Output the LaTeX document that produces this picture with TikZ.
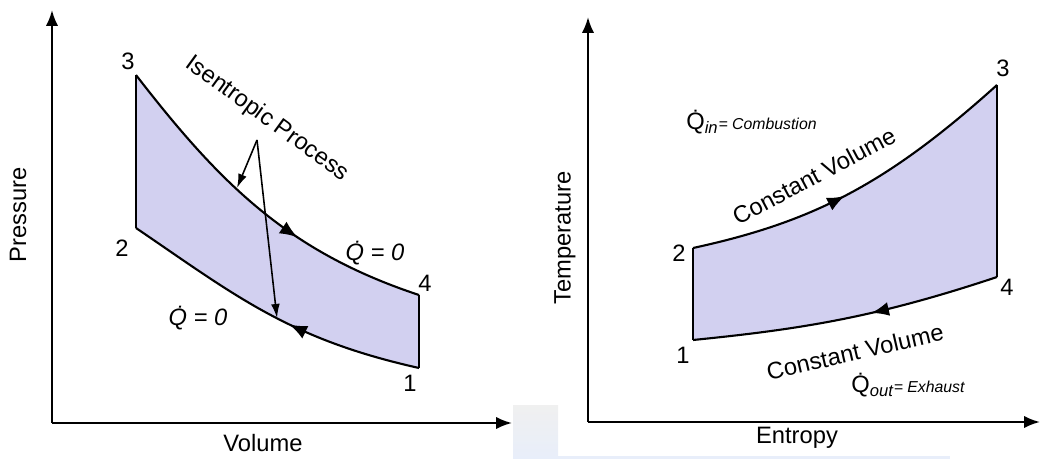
\documentclass[tikz,border=0pt]{standalone}
\usepackage{fontspec}
\setmainfont{Liberation Sans}
\definecolor{cyclefill}{RGB}{210,208,240}
\definecolor{hazeblue}{RGB}{232,238,250}
\usetikzlibrary{arrows.meta, decorations.markings}

\begin{document}
\begin{tikzpicture}[x=0.02cm, y=-0.02cm,
  font=\fontsize{13.5}{16}\selectfont,
  axisline/.style={line width=1.3pt, -{Latex[length=9pt,width=7pt]}},
  process/.style={line width=1.2pt},
  pointer/.style={line width=0.9pt, -{Latex[length=8pt,width=5pt]}},
  flowtip/.style={postaction={decorate}, decoration={markings,
    mark=at position #1 with {\arrow{Latex[length=10pt,width=8pt]}}}},
  lbl/.style={inner sep=0pt}]
  % Frame (reference size in px)
  \useasboundingbox (0,0) rectangle (1041,459);

  % Faint haze at the bottom between panels
  \shade[top color=gray!12, bottom color=hazeblue] (513,405) rectangle (558,459);
  \fill[hazeblue] (513,456) rectangle (950,459);

  % ---------------- P-V diagram ----------------
  \coordinate (pv0) at (52,423);
  \coordinate (pvtop) at (52,10);
  \coordinate (pvright) at (512,423);
  \coordinate (pv3) at (136,75);
  \coordinate (pv4) at (419,295);
  \coordinate (pv1) at (419,368);
  \coordinate (pv2) at (136,228);

  % Cycle area
  \fill[cyclefill] (pv3) .. controls (221,185) and (289,252) .. (pv4)
    -- (pv1) .. controls (289,339) and (236,296) .. (pv2) -- cycle;
  % Isentropic expansion 3 -> 4
  \draw[process, flowtip=0.63] (pv3) .. controls (221,185) and (289,252) .. (pv4);
  % Heat rejection 4 -> 1
  \draw[process] (pv4) -- (pv1);
  % Isentropic compression 1 -> 2
  \draw[process, flowtip=0.43] (pv1) .. controls (289,339) and (236,296) .. (pv2);
  % Heat addition 2 -> 3
  \draw[process] (pv2) -- (pv3);

  % Axes
  \draw[axisline] (pv0) -- (pvtop);
  \draw[axisline] (pv0) -- (pvright);
  \node[lbl] (volume) at (263,443) {Volume};
  \node[lbl, rotate=90] (pressure) at (18,215) {Pressure};

  % State labels
  \node[lbl] (pvlbl3) at (128,61) {3};
  \node[lbl] (pvlbl2) at (122,248) {2};
  \node[lbl] (pvlbl4) at (425,283) {4};
  \node[lbl] (pvlbl1) at (410,383) {1};

  % Isentropic callout
  \node[lbl, rotate=-36] (isen) at (267,119) {Isentropic Process};
  \coordinate (apex) at (257,140);
  \coordinate (hitup) at (237,188);
  \coordinate (hitlow) at (277,318);
  \draw[pointer] (apex) -- (hitup);
  \draw[pointer] (apex) -- (hitlow);

  % Adiabatic notes
  \node[lbl] (qzeroup) at (375,253) {\itshape \.{Q} = 0};
  \node[lbl] (qzerolow) at (198,318) {\itshape \.{Q} = 0};

  % ---------------- T-s diagram ----------------
  \coordinate (ts0) at (588,422);
  \coordinate (tstop) at (588,17);
  \coordinate (tsright) at (1040,422);
  \coordinate (ts1) at (693,340);
  \coordinate (ts2) at (693,248);
  \coordinate (ts3) at (997,85);
  \coordinate (ts4) at (997,277);

  % Cycle area
  \fill[cyclefill] (ts2) .. controls (813,222) and (887,184) .. (ts3)
    -- (ts4) .. controls (877,317) and (803,329) .. (ts1) -- cycle;
  % Constant volume heating 2 -> 3
  \draw[process, flowtip=0.46] (ts2) .. controls (813,222) and (887,184) .. (ts3);
  % Expansion 3 -> 4
  \draw[process] (ts3) -- (ts4);
  % Constant volume cooling 4 -> 1
  \draw[process, flowtip=0.42] (ts4) .. controls (877,317) and (803,329) .. (ts1);
  % Compression 1 -> 2
  \draw[process] (ts1) -- (ts2);

  % Axes
  \draw[axisline] (ts0) -- (tstop);
  \draw[axisline] (ts0) -- (tsright);
  \node[lbl] (entropy) at (797,438) {Entropy};
  \node[lbl, rotate=90] (temperature) at (565,238) {Temperature};

  % State labels
  \node[lbl] (tslbl3) at (1003,68) {3};
  \node[lbl] (tslbl2) at (679,253) {2};
  \node[lbl] (tslbl4) at (1007,287) {4};
  \node[lbl] (tslbl1) at (683,355) {1};

  % Process notes
  \node[lbl, rotate=28] (cvup) at (814,176) {Constant Volume};
  \node[lbl, rotate=13] (cvlow) at (855,352) {Constant Volume};
  \node[lbl, anchor=west] (qin) at (686,122)
    {\.{Q}\textsubscript{\itshape in}{\fontsize{9}{10}\selectfont\itshape = Combustion}};
  \node[lbl, anchor=west] (qout) at (851,385)
    {\.{Q}\textsubscript{\itshape out}{\fontsize{9}{10}\selectfont\itshape = Exhaust}};
\end{tikzpicture}
\end{document}
